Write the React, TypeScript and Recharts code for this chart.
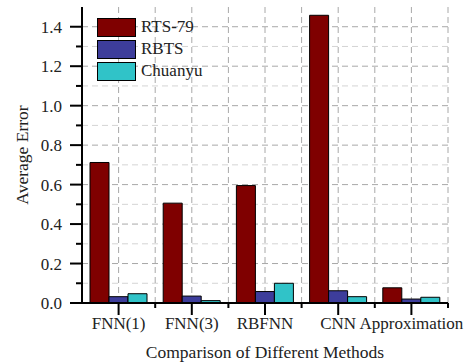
import React from 'react';
import { BarChart, Bar, XAxis, YAxis, CartesianGrid, Legend } from 'recharts';

const methods = ['FNN(1)', 'FNN(3)', 'RBFNN', 'CNN', 'Approximation'];
const rts79 = [0.712, 0.506, 0.595, 1.458, 0.077];
const rbts = [0.032, 0.035, 0.058, 0.062, 0.02];
const chuanyu = [0.047, 0.012, 0.1, 0.032, 0.029];
const yTicks = [0, 0.1, 0.2, 0.3, 0.4, 0.5, 0.6, 0.7, 0.8, 0.9, 1.0, 1.1, 1.2, 1.3, 1.4];
const majorGrid = [0.2, 0.4, 0.6, 0.8, 1.0, 1.2, 1.4];
const minorGrid = [0.1, 0.3, 0.5, 0.7, 0.9, 1.1, 1.3];

const series = [
  { key: 'rts', name: 'RTS-79', color: '#7f0000' },
  { key: 'rbts', name: 'RBTS', color: '#3d3d9b' },
  { key: 'chuanyu', name: 'Chuanyu', color: '#30c3c8' },
];

const data = methods.map((m, i) => ({ name: m, rts: rts79[i], rbts: rbts[i], chuanyu: chuanyu[i] }));

const W = 469;
const H = 364;
const LEFT = 82;
const RIGHT = 21;
const TOP = 7;
const XH = 61;
const PLOT_W = W - LEFT - RIGHT;
const HALF = PLOT_W / methods.length / 2;
const FONT = 'Liberation Serif';
const textStyle = { fontFamily: FONT, fontSize: '17px', fill: '#222' };

// y ticks: labelled every 0.2, short minor tick every 0.1
const YTick = ({ y, payload }: any) => {
  const v = payload.value;
  const major = Math.round(v * 10) % 2 === 0;
  return (
    <g>
      <line x1={LEFT - (major ? 12 : 6)} x2={LEFT} y1={y} y2={y} stroke="#000" strokeWidth={2} />
      {major && (
        <text x={LEFT - 20} y={y} dy={6} textAnchor="end" fontFamily={FONT} fontSize={17} fill="#222" style={textStyle}>
          {v.toFixed(1)}
        </text>
      )}
    </g>
  );
};

const XTick = ({ x, y, payload }: any) => (
  <g>
    <line x1={x} x2={x} y1={y} y2={y + 12} stroke="#000" strokeWidth={2} />
    <line x1={x + HALF} x2={x + HALF} y1={y} y2={y + 5} stroke="#000" strokeWidth={2} />
    <text x={x} y={y + 26} textAnchor="middle" fontFamily={FONT} fontSize={17} fill="#222" style={textStyle}>
      {payload.value}
    </text>
  </g>
);

const LegendBox = () => (
  <div style={{ fontFamily: FONT, fontSize: '17px', color: '#222', lineHeight: '22px' }}>
    {series.map((s) => (
      <div key={s.key} style={{ display: 'flex', alignItems: 'center', height: 22 }}>
        <div style={{ width: 37, height: 17, background: s.color, border: '1px solid #000', marginRight: 5 }} />
        <span style={{ fontFamily: FONT, fontSize: '17px' }}>{s.name}</span>
      </div>
    ))}
  </div>
);

export default function App() {
  return (
    <div style={{ position: 'absolute', left: 0, top: 0, width: W, height: H, background: '#fff', fontFamily: FONT }}>
      <BarChart
        width={W}
        height={H}
        data={data}
        margin={{ top: TOP, right: RIGHT, left: 0, bottom: 0 }}
        barCategoryGap={8}
        barGap={0}
      >
        <CartesianGrid
          horizontalValues={minorGrid}
          vertical={false}
          stroke="#d4d4d4"
          strokeDasharray="6 4"
        />
        <CartesianGrid
          horizontalValues={majorGrid}
          verticalCoordinatesGenerator={({ offset }: any) => {
            const step = offset.width / methods.length / 2;
            return methods.flatMap((_, i) => [offset.left + step * (2 * i + 1), offset.left + step * (2 * i + 2)]);
          }}
          stroke="#a8a8a8"
          strokeDasharray="6 4"
        />
        <XAxis
          dataKey="name"
          height={XH}
          interval={0}
          tickSize={0}
          tickMargin={0}
          tick={<XTick />}
          axisLine={{ stroke: '#000', strokeWidth: 2 }}
          label={{ value: 'Comparison of Different Methods', position: 'insideBottom', offset: 6, style: { ...textStyle, fontSize: '17.5px' } }}
        />
        <XAxis xAxisId="top" dataKey="name" orientation="top" height={0} tick={false} tickLine={false} axisLine={{ stroke: '#000', strokeWidth: 2 }} />
        <YAxis
          width={LEFT}
          domain={[0, 1.5]}
          ticks={yTicks}
          interval={0}
          tickSize={0}
          tickMargin={0}
          tick={<YTick />}
          axisLine={{ stroke: '#000', strokeWidth: 2 }}
          label={{ value: 'Average Error', angle: -90, position: 'insideLeft', offset: 22, style: { ...textStyle, fontSize: '17.5px', textAnchor: 'middle' } }}
        />
        <YAxis yAxisId="right" orientation="right" width={0} tick={false} tickLine={false} axisLine={{ stroke: '#000', strokeWidth: 2 }} />
        <Legend
          layout="vertical"
          align="center"
          verticalAlign="middle"
          content={<LegendBox />}
          wrapperStyle={{ position: 'absolute', left: 97, top: 16, width: 'auto' }}
        />
        {series.map((s) => (
          <Bar key={s.key} dataKey={s.key} name={s.name} fill={s.color} stroke="#000" strokeWidth={1} isAnimationActive={false} />
        ))}
      </BarChart>
    </div>
  );
}
